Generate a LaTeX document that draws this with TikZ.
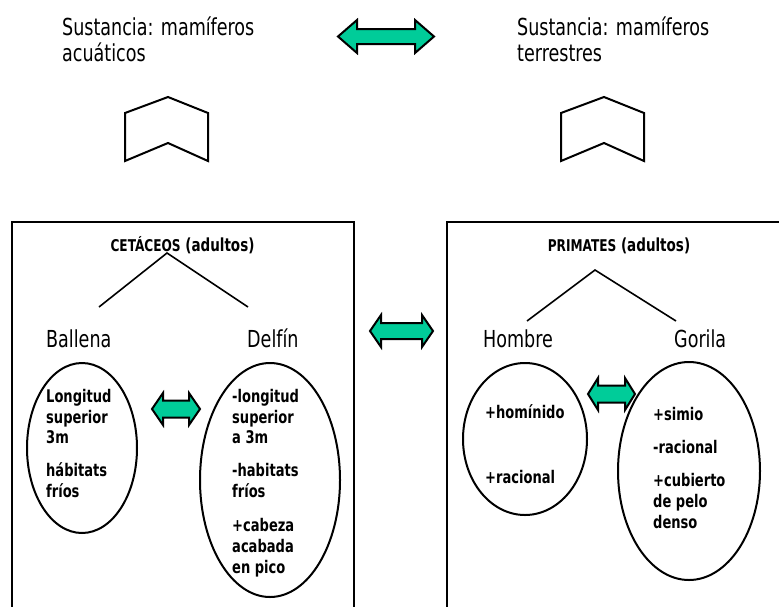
\documentclass[tikz,border=0pt]{standalone}
\usepackage{fontspec}
\setmainfont{DejaVu Sans Condensed}
\usetikzlibrary{shapes.geometric}
\definecolor{arrowgreen}{RGB}{0,204,153}
\newcommand\tall[1]{\scalebox{1}[1.2]{#1}}
\tikzset{
  outline/.style={draw=black, line width=2pt},
  oval/.style={ellipse, draw=black, line width=2pt, inner sep=0pt},
  treeline/.style={draw=black, line width=1.6pt},
  arrowshape/.style={draw=black, line width=2pt, fill=arrowgreen, line join=miter},
  bigtext/.style={anchor=base west, inner sep=0pt, font=\fontsize{19.5}{24}\selectfont},
  label/.style={anchor=base west, inner sep=0pt, font=\fontsize{19.5}{24}\selectfont},
  small/.style={anchor=base west, inner sep=0pt, font=\fontsize{14.5}{18}\selectfont\bfseries},
  titletext/.style={anchor=base, inner sep=0pt, font=\fontsize{15}{18}\selectfont\bfseries}
}
\newcommand\dblarrow[6]{%
  \draw[arrowshape] ({#1-#3},#2) -- ({#1-#3+#4},{#2-#5}) -- ({#1-#3+#4},{#2-#6})
    -- ({#1+#3-#4},{#2-#6}) -- ({#1+#3-#4},{#2-#5}) -- ({#1+#3},#2)
    -- ({#1+#3-#4},{#2+#5}) -- ({#1+#3-#4},{#2+#6}) -- ({#1-#3+#4},{#2+#6})
    -- ({#1-#3+#4},{#2+#5}) -- cycle;}
\begin{document}
\begin{tikzpicture}[x=1pt,y=-1pt]
\useasboundingbox (0,0) rectangle (779,606);
\clip (0,0) rectangle (779,606);
\fill[white] (0,0) rectangle (779,606);

% top texts
\node[bigtext] (tl1) at (62,35) {\tall{Sustancia: mamíferos}};
\node[bigtext] (tl2) at (62,61) {\tall{acuáticos}};
\node[bigtext] (tr1) at (517,35) {\tall{Sustancia: mamíferos}};
\node[bigtext] (tr2) at (517,61) {\tall{terrestres}};

% chevrons
\draw[outline, fill=white] (125,113) -- (168,97) -- (208,113) -- (208,161) -- (168,143) -- (125,161) -- cycle;
\draw[outline, fill=white] (561,113) -- (604,97) -- (644,113) -- (644,161) -- (604,143) -- (561,161) -- cycle;

% boxes
\draw[outline] (12,620) -- (12,222) -- (354,222) -- (354,620);
\draw[outline] (447,620) -- (447,222) -- (790,222);

% left box content
\node[titletext] (cet) at (182.5,251) {\tall{{\fontsize{13.5}{15}\selectfont CETÁCEOS} (adultos)}};
\coordinate (lapex) at (167,253);
\coordinate (lleft) at (99,307);
\coordinate (lright) at (248,307);
\draw[treeline] (lleft) -- (lapex) -- (lright);
\node[label] (ballena) at (46,347) {\tall{Ballena}};
\node[label] (delfin) at (247,347) {\tall{Delfín}};

\node[oval, minimum width=110, minimum height=170] (ovB) at (82,448) {};
\node[oval, minimum width=140, minimum height=234] (ovD) at (270,480) {};

\node[small] (b1) at (46,402) {\tall{Longitud}};
\node[small] (b2) at (46,423) {\tall{superior}};
\node[small] (b3) at (46,443) {\tall{3m}};
\node[small] (b4) at (46,476) {\tall{hábitats}};
\node[small] (b5) at (46,497) {\tall{fríos}};

\node[small] (d1) at (232,402) {\tall{-longitud}};
\node[small] (d2) at (232,423) {\tall{superior}};
\node[small] (d3) at (232,443) {\tall{a 3m}};
\node[small] (d4) at (232,476) {\tall{-habitats}};
\node[small] (d5) at (232,497) {\tall{fríos}};
\node[small] (d6) at (232,531) {\tall{+cabeza}};
\node[small] (d7) at (232,552) {\tall{acabada}};
\node[small] (d8) at (232,573) {\tall{en pico}};

% right box content
\node[titletext] (pri) at (619,251) {\tall{{\fontsize{13.5}{15}\selectfont PRIMATES} (adultos)}};
\coordinate (rapex) at (595,270);
\coordinate (rleft) at (527,321);
\coordinate (rright) at (676,321);
\draw[treeline] (rleft) -- (rapex) -- (rright);
\node[label] (hombre) at (483,347) {\tall{Hombre}};
\node[label] (gorila) at (674,347) {\tall{Gorila}};

\node[oval, minimum width=124, minimum height=152] (ovH) at (525,439) {};
\node[oval, minimum width=142, minimum height=218] (ovG) at (689,471) {};

\node[small] (h1) at (485,418) {\tall{+homínido}};
\node[small] (h2) at (485,483) {\tall{+racional}};

\node[small] (g1) at (653,420) {\tall{+simio}};
\node[small] (g2) at (653,453) {\tall{-racional}};
\node[small] (g3) at (653,486) {\tall{+cubierto}};
\node[small] (g4) at (653,507) {\tall{de pelo}};
\node[small] (g5) at (653,528) {\tall{denso}};

% double arrows
\dblarrow{386}{36.5}{48}{19}{16.5}{7.5}
\dblarrow{401.5}{331}{31.5}{11}{16}{8}
\dblarrow{176}{409}{24}{11}{16}{8.5}
\dblarrow{611.5}{394}{23.5}{10}{16}{8.5}
\end{tikzpicture}
\end{document}
